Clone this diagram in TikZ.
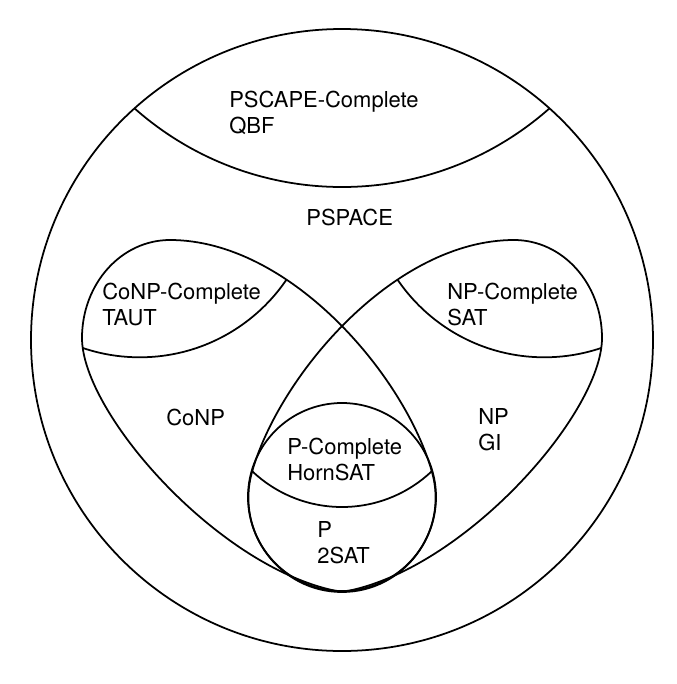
\documentclass[tikz,border=0pt]{standalone}
\usepackage{fontspec}
\setmainfont{TeX Gyre Heros}
\usepackage{tikz}

% outline of the two teardrop classes (pixel-like units, y down)
\newcommand{\conpshape}{(342,592) .. controls (222,572) and (82,414) .. (82,338)
	.. controls (82,284) and (121,240) .. (170,240)
	.. controls (290,240) and (405,376) .. (432,472)
	.. controls (449,532) and (404,592) .. (342,592) -- cycle}
\newcommand{\npshape}{(342,592) .. controls (462,572) and (602,414) .. (602,338)
	.. controls (602,284) and (563,240) .. (514,240)
	.. controls (394,240) and (279,376) .. (252,472)
	.. controls (235,532) and (280,592) .. (342,592) -- cycle}

\tikzset{
	setline/.style={draw=black, line width=1pt},
	setlabel/.style={anchor=base west, align=left, inner sep=0pt,
		font=\fontsize{12.5}{14.6}\selectfont},
}

\begin{document}
\begin{tikzpicture}[x=0.02cm, y=-0.02cm]
	\useasboundingbox (0,0) rectangle (677,684);

	% PSPACE (outer circle) and its complete cap
	\draw[setline] (342,340) circle (311);
	\begin{scope}
		\clip (342,340) circle (311);
		\draw[setline] (342,-126) circle (313);
	\end{scope}

	% CoNP and NP
	\draw[setline] \conpshape;
	\draw[setline] \npshape;
	\begin{scope}
		\clip \conpshape;
		\draw[setline] (139.7,179.8) circle (177.5);
	\end{scope}
	\begin{scope}
		\clip \npshape;
		\draw[setline] (544.3,179.8) circle (177.5);
	\end{scope}

	% P and its complete cap
	\draw[setline] (342,497) circle (94);
	\begin{scope}
		\clip (342,497) circle (94);
		\draw[setline] (342,376.5) circle (130.5);
	\end{scope}

	% labels (anchored at the baseline of the last line)
	\node[setlabel] (pscapec) at (229,133) {PSCAPE-Complete\\QBF};
	\node[setlabel] (pspace)  at (306,225) {PSPACE};
	\node[setlabel] (conpc)   at (102,325) {CoNP-Complete\\TAUT};
	\node[setlabel] (npc)     at (447,325) {NP-Complete\\SAT};
	\node[setlabel] (conp)    at (166,425) {CoNP};
	\node[setlabel] (np)      at (478,450) {NP\\GI};
	\node[setlabel] (pc)      at (287,480) {P-Complete\\HornSAT};
	\node[setlabel] (p)       at (317,563) {P\\2SAT};
\end{tikzpicture}
\end{document}
